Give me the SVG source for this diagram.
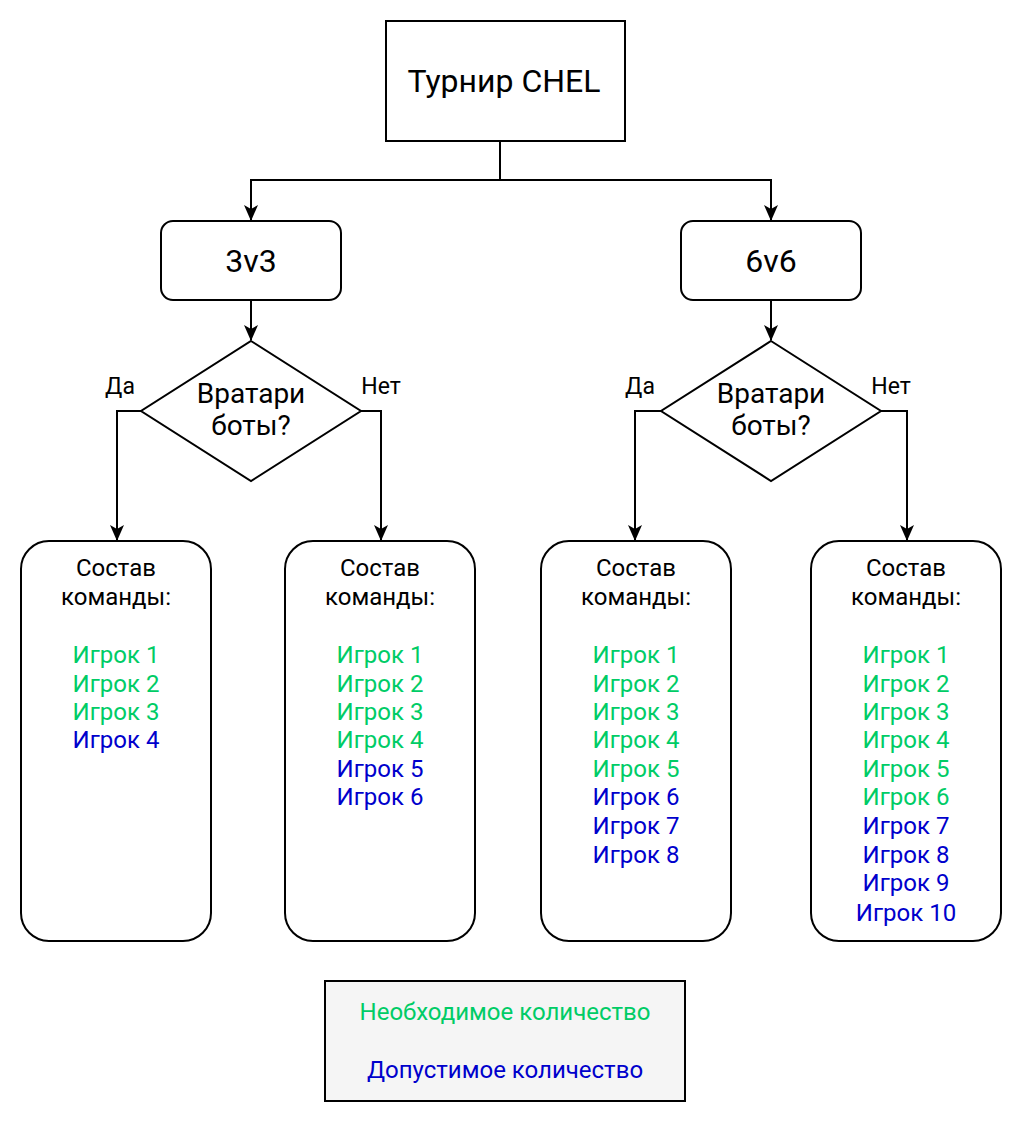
<svg xmlns="http://www.w3.org/2000/svg" width="1022" height="1122" viewBox="0 0 1022 1122">
<defs>
<marker id="arr" viewBox="0 0 16 16" refX="15" refY="8" markerWidth="16" markerHeight="16" markerUnits="userSpaceOnUse" orient="auto"><path d="M0,1 L16,8 L0,15 L4,8 Z" fill="#000"/></marker>
<style>
text{font-family:Roboto,"Liberation Sans",sans-serif;text-anchor:middle;dominant-baseline:central;fill:#000}
.n{fill:#fff;stroke:#000;stroke-width:2}
.c{fill:none;stroke:#000;stroke-width:2;marker-end:url(#arr)}
.l{fill:none;stroke:#000;stroke-width:2}
.t{font-size:24px}
.g{fill:#00CC66;font-size:24px}
.b{fill:#0000CC;font-size:24px}
.lab{font-size:23px}
</style>
</defs>
<rect width="1022" height="1122" fill="#fff"/>
<g id="connectors">
<path class="l" d="M500,141 V180"/>
<path class="c" d="M500,180 H251 V220"/>
<path class="c" d="M500,180 H771 V220"/>
<path class="c" d="M251,300 V340"/>
<path class="c" d="M771,300 V340"/>
<path class="c" d="M141,411 H117 V540"/>
<path class="c" d="M361,411 H381 V540"/>
<path class="c" d="M661,411 H635 V540"/>
<path class="c" d="M881,411 H907 V540"/>
<text class="lab" x="120" y="386">Да</text>
<text class="lab" x="381" y="386">Нет</text>
<text class="lab" x="640" y="386">Да</text>
<text class="lab" x="891" y="386">Нет</text>
</g>
<g id="root"><rect class="n" x="386" y="21" width="239" height="120"/><text x="504" y="81" style="font-size:32px">Турнир CHEL</text></g>
<g id="m3"><rect class="n" x="161" y="221" width="180" height="79" rx="12"/><text x="251" y="261" style="font-size:32px">3v3</text></g>
<g id="m6"><rect class="n" x="681" y="221" width="180" height="79" rx="12"/><text x="771" y="261" style="font-size:32px">6v6</text></g>
<g id="d3"><path class="n" d="M251,341 L361,411 L251,481 L141,411 Z"/><text x="251" y="393" style="font-size:28px">Вратари</text><text x="251" y="425" style="font-size:28px">боты?</text></g>
<g id="d6"><path class="n" d="M771,341 L881,411 L771,481 L661,411 Z"/><text x="771" y="393" style="font-size:28px">Вратари</text><text x="771" y="425" style="font-size:28px">боты?</text></g>
<g id="b1"><rect class="n" x="21" y="541" width="190" height="400" rx="28"/>
<text class="t" x="116" y="568">Состав</text><text class="t" x="116" y="597">команды:</text>
<text class="g" x="116" y="655">Игрок 1</text><text class="g" x="116" y="684">Игрок 2</text><text class="g" x="116" y="712">Игрок 3</text><text class="b" x="116" y="740">Игрок 4</text></g>
<g id="b2"><rect class="n" x="285" y="541" width="190" height="400" rx="28"/>
<text class="t" x="380" y="568">Состав</text><text class="t" x="380" y="597">команды:</text>
<text class="g" x="380" y="655">Игрок 1</text><text class="g" x="380" y="684">Игрок 2</text><text class="g" x="380" y="712">Игрок 3</text><text class="g" x="380" y="740">Игрок 4</text><text class="b" x="380" y="769">Игрок 5</text><text class="b" x="380" y="797">Игрок 6</text></g>
<g id="b3"><rect class="n" x="541" y="541" width="190" height="400" rx="28"/>
<text class="t" x="636" y="568">Состав</text><text class="t" x="636" y="597">команды:</text>
<text class="g" x="636" y="655">Игрок 1</text><text class="g" x="636" y="684">Игрок 2</text><text class="g" x="636" y="712">Игрок 3</text><text class="g" x="636" y="740">Игрок 4</text><text class="g" x="636" y="769">Игрок 5</text><text class="b" x="636" y="797">Игрок 6</text><text class="b" x="636" y="826">Игрок 7</text><text class="b" x="636" y="855">Игрок 8</text></g>
<g id="b4"><rect class="n" x="811" y="541" width="190" height="400" rx="28"/>
<text class="t" x="906" y="568">Состав</text><text class="t" x="906" y="597">команды:</text>
<text class="g" x="906" y="655">Игрок 1</text><text class="g" x="906" y="684">Игрок 2</text><text class="g" x="906" y="712">Игрок 3</text><text class="g" x="906" y="740">Игрок 4</text><text class="g" x="906" y="769">Игрок 5</text><text class="g" x="906" y="797">Игрок 6</text><text class="b" x="906" y="826">Игрок 7</text><text class="b" x="906" y="855">Игрок 8</text><text class="b" x="906" y="883">Игрок 9</text><text class="b" x="906" y="913">Игрок 10</text></g>
<g id="legend"><rect x="325" y="981" width="360" height="120" fill="#f5f5f5" stroke="#000" stroke-width="2"/>
<text class="g" x="505" y="1012">Необходимое количество</text><text class="b" x="505" y="1070">Допустимое количество</text></g>
</svg>
